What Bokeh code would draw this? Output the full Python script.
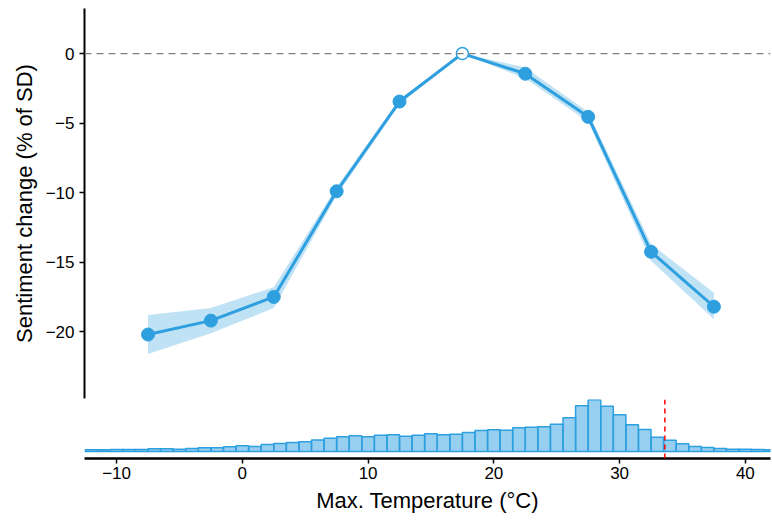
from bokeh.plotting import figure
from bokeh.models import Range1d, Span, FixedTicker
from bokeh.layouts import column
from bokeh.embed import file_html
from bokeh.resources import INLINE

# ---- data ----
temp_bins = [-7.5, -2.5, 2.5, 7.5, 12.5, 17.5, 22.5, 27.5, 32.5, 37.5]
sentiment = [-20.2, -19.2, -17.5, -9.9, -3.45, 0.0, -1.45, -4.55, -14.25, -18.2]
ci_upper = [-18.8, -18.3, -16.8, -9.6, -3.25, 0.0, -1.0, -4.2, -13.7, -17.2]
ci_lower = [-21.6, -20.1, -18.3, -10.2, -3.65, 0.0, -1.8, -4.9, -14.9, -19.1]
reference_bin = 17.5

hist_centers = list(range(-12, 43))
hist_heights = [1.7, 1.7, 2.0, 2.0, 2.0, 2.7, 2.7, 2.3, 3.0, 3.7,
                3.7, 4.7, 5.7, 5.0, 7.0, 8.0, 9.0, 9.7, 11.5, 13.3,
                14.7, 15.7, 14.7, 16.3, 16.7, 15.3, 16.3, 17.7, 16.7, 17.3,
                19.0, 21.0, 21.7, 21.3, 23.7, 24.3, 24.7, 27.3, 33.7, 45.7,
                51.7, 45.3, 36.7, 26.7, 22.0, 14.3, 11.3, 7.7, 5.0, 4.0,
                3.0, 2.3, 2.3, 2.0, 1.7]
threshold = 33.6

x_ticks = [-10, 0, 10, 20, 30, 40]
y_ticks = [-20, -15, -10, -5, 0]

BLUE = "#2E9FDF"
FONT = "Liberation Sans"

def minus(v):
    s = str(v)
    return s.replace("-", "\u2212")

# ---- top panel ----
p = figure(width=772, height=399, x_range=Range1d(-12.55, 42.0),
           y_range=Range1d(-24.8, 3.24), output_backend="svg",
           toolbar_location=None, min_border_left=84, min_border_right=2,
           min_border_top=8, min_border_bottom=1)
p.xaxis.visible = False
p.grid.visible = False
p.outline_line_color = None
p.background_fill_color = "white"
p.border_fill_color = "white"

p.add_layout(Span(location=0, dimension="width", line_color="#808080",
                  line_dash="7 5", line_width=1.3))

p.varea(x=temp_bins, y1=ci_lower, y2=ci_upper, fill_color=BLUE, fill_alpha=0.3)
p.line(temp_bins, sentiment, line_color=BLUE, line_width=3)
fx = [t for t in temp_bins if t != reference_bin]
fy = [s for t, s in zip(temp_bins, sentiment) if t != reference_bin]
p.scatter(fx, fy, size=13, fill_color=BLUE, line_color=BLUE)
rx = [t for t in temp_bins if t == reference_bin]
ry = [s for t, s in zip(temp_bins, sentiment) if t == reference_bin]
p.scatter(rx, ry, size=12, fill_color="white", line_color=BLUE, line_width=1.5)

ya = p.yaxis[0]
ya.ticker = FixedTicker(ticks=y_ticks)
ya.major_label_overrides = {t: minus(t) for t in y_ticks}
ya.axis_label = "Sentiment change (% of SD)"
ya.axis_label_text_font = FONT
ya.axis_label_text_font_size = "22px"
ya.axis_label_text_font_style = "normal"
ya.axis_label_text_color = "black"
ya.axis_label_standoff = 6
ya.major_label_text_font = FONT
ya.major_label_text_font_size = "17px"
ya.major_label_text_color = "black"
ya.major_label_standoff = 5
ya.axis_line_width = 2
ya.axis_line_color = "black"
ya.major_tick_line_width = 1.5
ya.major_tick_line_color = "black"
ya.major_tick_out = 5
ya.major_tick_in = 0
ya.minor_tick_line_color = None

# ---- bottom panel (histogram) ----
p2 = figure(width=772, height=122, x_range=p.x_range,
            y_range=Range1d(-7, 52), output_backend="svg",
            toolbar_location=None, min_border_left=84, min_border_right=2,
            min_border_top=0, min_border_bottom=63)
p2.yaxis.visible = False
p2.grid.visible = False
p2.outline_line_color = None
p2.background_fill_color = "white"
p2.border_fill_color = "white"

p2.quad(left=[c - 0.5 for c in hist_centers], right=[c + 0.5 for c in hist_centers],
        bottom=0, top=hist_heights, fill_color=BLUE, fill_alpha=0.5,
        line_color=BLUE, line_width=1.5)
p2.add_layout(Span(location=threshold, dimension="height", line_color="red",
                   line_dash="5 4", line_width=1.5))

xa = p2.xaxis[0]
xa.ticker = FixedTicker(ticks=x_ticks)
xa.major_label_overrides = {t: minus(t) for t in x_ticks}
xa.axis_label = "Max. Temperature (\u00b0C)"
xa.axis_label_text_font = FONT
xa.axis_label_text_font_size = "22px"
xa.axis_label_text_font_style = "normal"
xa.axis_label_text_color = "black"
xa.axis_label_standoff = 6
xa.major_label_text_font = FONT
xa.major_label_text_font_size = "17px"
xa.major_label_text_color = "black"
xa.major_label_standoff = 3
xa.axis_line_width = 2.5
xa.axis_line_color = "black"
xa.major_tick_line_width = 1.5
xa.major_tick_line_color = "black"
xa.major_tick_out = 5
xa.major_tick_in = 0
xa.minor_tick_line_color = None

layout = column(p, p2, spacing=0)
open("out.html", "w").write(file_html(layout, INLINE))
